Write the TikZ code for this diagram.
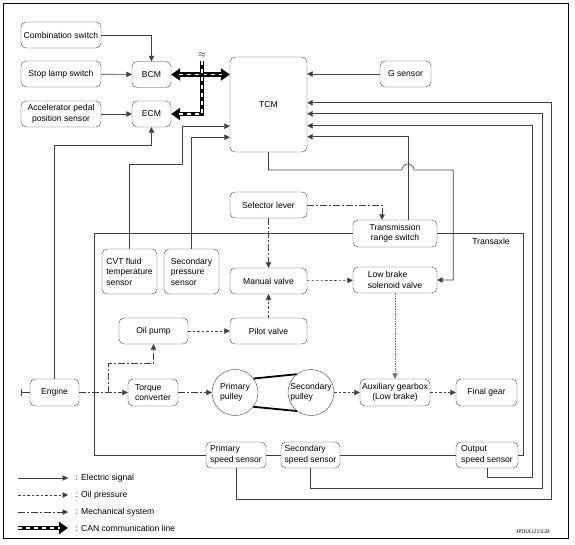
\documentclass[tikz,border=0pt]{standalone}
\usepackage{fontspec}
\setmainfont{Liberation Sans}
\newfontfamily\figfont{Liberation Serif}
\usetikzlibrary{arrows.meta}
\tikzset{
  blk/.style={draw=black!75, rounded corners=5pt, inner sep=1pt, align=center, minimum height=26pt},
  pulley/.style={draw=black!75, circle, inner sep=0pt, minimum size=46pt, align=left},
  wire/.style={draw=black!75, line width=0.6pt},
  sig/.style={wire, -{Triangle[length=5.5pt,width=5.5pt]}},
  oilp/.style={sig, dash pattern=on 2.5pt off 2pt},
  mech/.style={sig, dash pattern=on 7pt off 2pt on 2pt off 2pt},
  can/.style={line width=4.5pt, -{Triangle[length=9pt,width=12pt]},
    postaction={draw=white, line width=1.8pt, -, dash pattern=on 4pt off 4pt, shorten >=8pt}},
  cantwo/.style={line width=4.5pt, {Triangle[length=9pt,width=12pt]}-{Triangle[length=9pt,width=12pt]},
    postaction={draw=white, line width=1.8pt, -, dash pattern=on 4pt off 4pt, shorten >=8pt, shorten <=8pt}}
}
\begin{document}
\begin{tikzpicture}[x=1pt,y=-1pt,font=\fontsize{8.6}{10.5}\selectfont]
  \useasboundingbox (0,0) rectangle (575,545);
  \draw[line width=0.9pt] (3,3) rectangle (568,538);
  \draw (61,35) node[blk, minimum width=80pt] (comb) {Combination switch}
   (61,74) node[blk, minimum width=80pt] (stop) {Stop lamp switch}
   (61,114) node[blk, minimum width=80pt] (accel) {Accelerator pedal\\position sensor}
   (151.5,74.5) node[blk, minimum width=39pt] (bcm) {BCM}
   (151.5,114) node[blk, minimum width=39pt] (ecm) {ECM}
   (268.5,104.5) node[blk, minimum width=77pt, minimum height=95pt] (tcm) {TCM}
   (405.5,74) node[blk, minimum width=51pt] (gsen) {G sensor};
  \draw (268.5,205) node[blk, minimum width=77pt] (sel) {Selector lever}
   (395,233.5) node[blk, minimum width=84pt, minimum height=27pt] (trs) {Transmission\\range switch}
   (129.5,271.5) node[blk, align=left, minimum width=55pt, minimum height=45pt] (cvt) {CVT fluid\\temperature\\sensor}
   (191.5,271.5) node[blk, align=left, minimum width=55pt, minimum height=45pt] (sps) {Secondary\\pressure\\sensor}
   (268.5,281) node[blk, minimum width=77pt] (man) {Manual valve}
   (395,280) node[blk, align=left, minimum width=84pt] (lbs) {Low brake\\solenoid valve}
   (153.5,331) node[blk, minimum width=69pt] (oil) {Oil pump}
   (268.5,331) node[blk, minimum width=77pt] (pil) {Pilot valve}
   (491,241) node[] (tax) {Transaxle};
  \draw (54.5,392.5) node[blk, minimum width=49pt, minimum height=27pt] (eng) {Engine}
   (153,392.5) node[blk, align=left, minimum width=50pt, minimum height=27pt] (tc) {Torque\\converter}
   (235,392.5) node[pulley] (pp) {Primary\\pulley}
   (311,392.5) node[pulley] (sp) {Secondary\\pulley}
   (395,392.5) node[blk, minimum width=70pt, minimum height=27pt] (aux) {Auxiliary gearbox\\(Low brake)}
   (486.5,392.5) node[blk, minimum width=61pt, minimum height=27pt] (fin) {Final gear}
   (236,455) node[blk, align=left, minimum width=60pt] (psen) {Primary\\speed sensor}
   (310.5,455) node[blk, align=left, minimum width=59pt] (ssen) {Secondary\\speed sensor}
   (487,455) node[blk, align=left, minimum width=62pt] (osen) {Output\\speed sensor};
  \coordinate (shaft) at (21,392.5);
  \coordinate (tap) at (108,392.5);
  \coordinate (brk) at (202,61);
  \node[font=\normalsize, inner sep=0pt] (wave) at (202,55) {$\approx$};
  \draw[wire] (trs.west) -- (94,233.5) -- (94,455) -- (psen.west);
  \draw[wire] (psen.east) -- (ssen.west);
  \draw[wire] (ssen.east) -- (osen.west);
  \draw[wire] (trs.east) -| ([xshift=5pt]osen.east) -- (osen.east);
  \draw[sig] (comb.east) -| (bcm.north);
  \draw[sig] (stop) -- (bcm);
  \draw[sig] (accel) -- (ecm);
  \draw[sig] (eng.north) -- (54.5,145) -| (ecm.south);
  \draw[sig] (gsen.west) -- (tcm.east |- gsen.west);
  \draw[sig] (cvt.north) |- (182,164) |- ([yshift=26pt]tcm.south west);
  \draw[sig] (sps.north) |- ([yshift=15pt]tcm.south west);
  \draw[sig] (psen.south) |- (551,499) |- ([yshift=-46pt]tcm.north east);
  \draw[sig] (ssen.south) |- (542,488) |- ([yshift=-57pt]tcm.north east);
  \draw[sig] (osen.south) |- (532,477) |- ([yshift=-69pt]tcm.north east);
  \draw[sig] ([xshift=13pt]trs.north) |- ([yshift=-80pt]tcm.north east);
  \draw[sig] (tcm.south) |- (402,170) arc[start angle=180, end angle=0, radius=6pt] -| ([xshift=16pt]lbs.east) -- (lbs.east);
  \draw[mech] (sel.east) -| ([xshift=-13pt]trs.north);
  \draw[mech] (sel) -- (man);
  \draw[mech] (eng) -- (tc);
  \draw[mech] (tap) |- ([yshift=-19pt]oil.south) -- (oil.south);
  \draw[mech] (tc) -- (pp);
  \draw[wire, {Bar[width=7pt]}-] (shaft) -- (eng.west);
  \draw[oilp] (oil) -- (pil);
  \draw[oilp] (pil) -- (man);
  \draw[oilp] (man) -- (lbs);
  \draw[oilp] (sp) -- (aux);
  \draw[oilp] (aux) -- (fin);
  \draw[oilp, draw=black!55, dash pattern=on 1.5pt off 1pt] (lbs) -- (aux);
  \draw[line width=1.8pt] (pp.37) -- (sp.128);
  \draw[line width=1.8pt] (pp.-38) -- (sp.233);
  \draw[cantwo] (bcm.east) -- (tcm.west |- bcm.east);
  \draw[can] (brk) |- (ecm.east);
  \draw (72,478) node[anchor=west] (lg1) {: Electric signal}
   (72,495) node[anchor=west] (lg2) {: Oil pressure}
   (72,512) node[anchor=west] (lg3) {: Mechanical system}
   (72,528) node[anchor=west] (lg4) {: CAN communication line};
  \coordinate (s1) at (18,478);
  \coordinate (s2) at (18,495);
  \coordinate (s3) at (18,512);
  \coordinate (s4) at (18,528);
  \draw[sig] (s1) -- ([xshift=-4pt]lg1.west);
  \draw[oilp] (s2) -- ([xshift=-4pt]lg2.west);
  \draw[mech] (s3) -- ([xshift=-4pt]lg3.west);
  \draw[can] (s4) -- ([xshift=-4pt]lg4.west);
  \node[font=\figfont\fontsize{5.5}{6}\selectfont] (code) at (533,532) {JPDIA1215GB};
\end{tikzpicture}
\end{document}
